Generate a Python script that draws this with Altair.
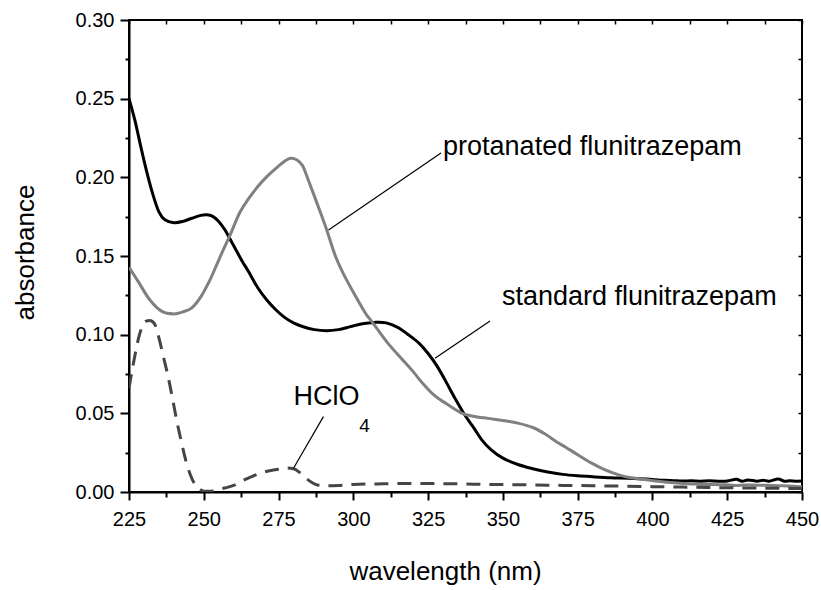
import altair as alt
import pandas as pd

# ---------------- data ----------------
std_wl = [225, 227, 229, 231, 233, 235, 237, 240, 243, 246, 249, 251, 253, 255, 257,
          259, 261, 263, 265, 268, 271, 274, 277, 280, 283, 287, 291, 295, 299, 303,
          307, 311, 315, 318, 322, 325, 328, 331, 334, 337, 340, 343, 346, 350, 355,
          360, 365, 370, 375, 380, 386, 392, 398, 401, 404, 407, 410, 413, 416, 419,
          422, 425, 428, 430, 432, 435, 437, 439, 442, 444, 446, 448, 450]
std_abs = [0.250, 0.236, 0.219, 0.203, 0.189, 0.178, 0.173, 0.1712, 0.172, 0.174, 0.1758,
           0.1762, 0.1752, 0.172, 0.1668, 0.160, 0.153, 0.1462, 0.140, 0.130, 0.1222,
           0.116, 0.111, 0.1075, 0.1052, 0.1032, 0.1025, 0.1032, 0.1051, 0.107, 0.1078,
           0.1075, 0.1045, 0.1005, 0.0945, 0.088, 0.080, 0.070, 0.0595, 0.0497, 0.0415,
           0.033, 0.027, 0.0215, 0.0175, 0.0148, 0.0127, 0.0112, 0.0103, 0.0097, 0.0091,
           0.0088, 0.0083, 0.0078, 0.0074, 0.0072, 0.0070, 0.0071, 0.0069, 0.0071,
           0.0069, 0.0070, 0.0081, 0.0068, 0.0077, 0.0069, 0.0075, 0.0069, 0.0083,
           0.0069, 0.0071, 0.0069, 0.0070]

prot_wl = [225, 228, 232, 236, 240, 243, 246, 249, 252, 254, 256, 259, 262, 265, 268,
           271, 274, 277, 279, 281, 283, 285, 288, 291, 294, 297, 300, 304, 306, 309,
           312, 316, 320, 323, 327, 331, 336, 340, 345, 350, 355, 360, 364, 368, 371,
           375, 380, 384, 389, 393, 398, 402, 406, 410, 415, 420, 425, 428, 431, 435,
           440, 444, 447, 450]
prot_abs = [0.1428, 0.134, 0.122, 0.1148, 0.1132, 0.1145, 0.117, 0.124, 0.1345, 0.143,
            0.1517, 0.1642, 0.1775, 0.1865, 0.194, 0.2003, 0.2055, 0.2102, 0.2121,
            0.2112, 0.2075, 0.198, 0.1828, 0.1672, 0.150, 0.1375, 0.127, 0.1138,
            0.1088, 0.101, 0.0935, 0.085, 0.0765, 0.0695, 0.0615, 0.0562, 0.0503,
            0.0482, 0.0468, 0.0455, 0.0438, 0.041, 0.037, 0.0318, 0.0285, 0.0237,
            0.018, 0.0142, 0.0107, 0.009, 0.0078, 0.0068, 0.006, 0.0054, 0.005, 0.0047,
            0.0046, 0.0041, 0.0045, 0.0043, 0.0042, 0.0040, 0.0036, 0.0033]

acid_wl = [225, 226.5, 228.5, 230.5, 232, 233.5, 235, 236.5, 238, 239.5, 241, 242.5,
           244, 245.5, 247, 248.5, 250, 252, 254, 257, 260, 263, 266, 269, 272, 275,
           278, 280, 282, 284, 286, 288, 291, 295, 300, 310, 320, 330, 340, 350, 360,
           370, 380, 390, 400, 410, 420, 430, 440, 450]
acid_abs = [0.066, 0.082, 0.100, 0.1085, 0.109, 0.107, 0.098, 0.086, 0.074, 0.060, 0.045,
            0.032, 0.020, 0.011, 0.005, 0.002, 0.0005, 0.0005, 0.0012, 0.0025, 0.0042,
            0.0072, 0.0098, 0.012, 0.0135, 0.0145, 0.0152, 0.0148, 0.0125, 0.009, 0.0062,
            0.0045, 0.004, 0.0042, 0.0048, 0.0052, 0.0054, 0.0053, 0.005, 0.0047, 0.0045,
            0.0042, 0.004, 0.0037, 0.0034, 0.0031, 0.0028, 0.0026, 0.0024, 0.0022]

# annotations (in data units)
label_text = ["protanated flunitrazepam", "standard flunitrazepam", "HClO"]
label_wl = [330.0, 349.7, 280.0]
label_abs = [0.2140, 0.1189, 0.0553]
sub_text = ["4"]
sub_wl = [302.0]
sub_abs = [0.0383]
lead_wl = [329.3, 345.7, 290.0]
lead_abs = [0.2155, 0.1087, 0.0479]
lead_wl2 = [291.7, 327.3, 280.0]
lead_abs2 = [0.1666, 0.0850, 0.0151]

x_major = [225, 250, 275, 300, 325, 350, 375, 400, 425, 450]
x_minor = [237.5, 262.5, 287.5, 312.5, 337.5, 362.5, 387.5, 412.5, 437.5]
y_major = [0.0, 0.05, 0.10, 0.15, 0.20, 0.25, 0.30]
y_minor = [0.025, 0.075, 0.125, 0.175, 0.225, 0.275]

FONT = "Liberation Sans, Arial, Helvetica, sans-serif"

xs = alt.Scale(domain=[225, 450], nice=False, zero=False)
ys = alt.Scale(domain=[0, 0.30], nice=False, zero=False)

std_df = pd.DataFrame({"wl": std_wl, "a": std_abs})
prot_df = pd.DataFrame({"wl": prot_wl, "a": prot_abs})
acid_df = pd.DataFrame({"wl": acid_wl, "a": acid_abs})
lab_df = pd.DataFrame({"wl": label_wl, "a": label_abs, "t": label_text})
sub_df = pd.DataFrame({"wl": sub_wl, "a": sub_abs, "t": sub_text})
lead_df = pd.DataFrame({"wl": lead_wl, "a": lead_abs, "wl2": lead_wl2, "a2": lead_abs2})

x_main_axis = alt.Axis(
    orient="bottom", values=x_major, format="d", tickSize=8, tickWidth=2,
    tickColor="black", domainColor="black", domainWidth=2, labelFont=FONT,
    labelFontSize=20, labelColor="black", labelPadding=9, labelFlush=False,
    labelOverlap=False, grid=False, title="wavelength (nm)", titleFont=FONT,
    titleFontSize=26, titleFontWeight="normal", titleColor="black",
    titleX=316, titleY=87, titleBaseline="alphabetic", titleAlign="center")
y_main_axis = alt.Axis(
    orient="left", values=y_major, format=".2f", tickSize=9, tickWidth=2,
    tickColor="black", domainColor="black", domainWidth=2, labelFont=FONT,
    labelFontSize=20, labelColor="black", labelPadding=6, labelFlush=False,
    labelOverlap=False, grid=False, title="absorbance", titleFont=FONT,
    titleFontSize=26, titleFontWeight="normal", titleColor="black",
    titleX=-96, titleY=232, titleAngle=270, titleBaseline="alphabetic",
    titleAlign="center")
x_minor_axis = alt.Axis(orient="bottom", values=x_minor, labels=False, domain=False,
                        tickSize=5, tickWidth=2, tickColor="black", grid=False, title="")
y_minor_axis = alt.Axis(orient="left", values=y_minor, labels=False, domain=False,
                        tickSize=4, tickWidth=2, tickColor="black", grid=False, title="")
x_top_axis = alt.Axis(orient="top", values=x_major + x_minor, labels=False, domain=False,
                      tickSize=4, tickWidth=1.5, tickColor="black", offset=-4,
                      grid=False, title="")
y_right_axis = alt.Axis(orient="right", values=y_major + y_minor, labels=False,
                        domain=False, tickSize=4, tickWidth=1.5, tickColor="black",
                        offset=-4, grid=False, title="")

std_line = alt.Chart(std_df).mark_line(
    color="black", strokeWidth=3, interpolate="cardinal", clip=True
).encode(x=alt.X("wl:Q", scale=xs, axis=x_main_axis),
         y=alt.Y("a:Q", scale=ys, axis=y_main_axis))

prot_line = alt.Chart(prot_df).mark_line(
    color="#808080", strokeWidth=3, interpolate="cardinal", clip=True
).encode(x=alt.X("wl:Q", scale=xs, axis=x_minor_axis),
         y=alt.Y("a:Q", scale=ys, axis=y_minor_axis))

acid_line = alt.Chart(acid_df).mark_line(
    color="#454545", strokeWidth=3, strokeDash=[14, 9], interpolate="monotone", clip=True
).encode(x=alt.X("wl:Q", scale=xs, axis=x_top_axis),
         y=alt.Y("a:Q", scale=ys, axis=y_right_axis))

leaders = alt.Chart(lead_df).mark_rule(color="black", strokeWidth=1.2).encode(
    x=alt.X("wl:Q", scale=xs, axis=None), y=alt.Y("a:Q", scale=ys, axis=None),
    x2="wl2:Q", y2="a2:Q")

labels = alt.Chart(lab_df).mark_text(
    font=FONT, fontSize=27, align="left", baseline="alphabetic", color="black"
).encode(x=alt.X("wl:Q", scale=xs, axis=None), y=alt.Y("a:Q", scale=ys, axis=None),
         text="t:N")

subs = alt.Chart(sub_df).mark_text(
    font=FONT, fontSize=19, align="left", baseline="alphabetic", color="black"
).encode(x=alt.X("wl:Q", scale=xs, axis=None), y=alt.Y("a:Q", scale=ys, axis=None),
         text="t:N")

chart = alt.layer(std_line, prot_line, acid_line, leaders, labels, subs).resolve_axis(
    x="independent", y="independent"
).properties(
    width=673, height=472,
    padding={"left": 129, "top": 20, "right": 19, "bottom": 98},
    autosize=alt.AutoSizeParams(type="none"),
    background="white",
).configure_view(stroke="black", strokeWidth=2)

chart.save("out.html", embed_options={"renderer": "svg", "actions": False})
